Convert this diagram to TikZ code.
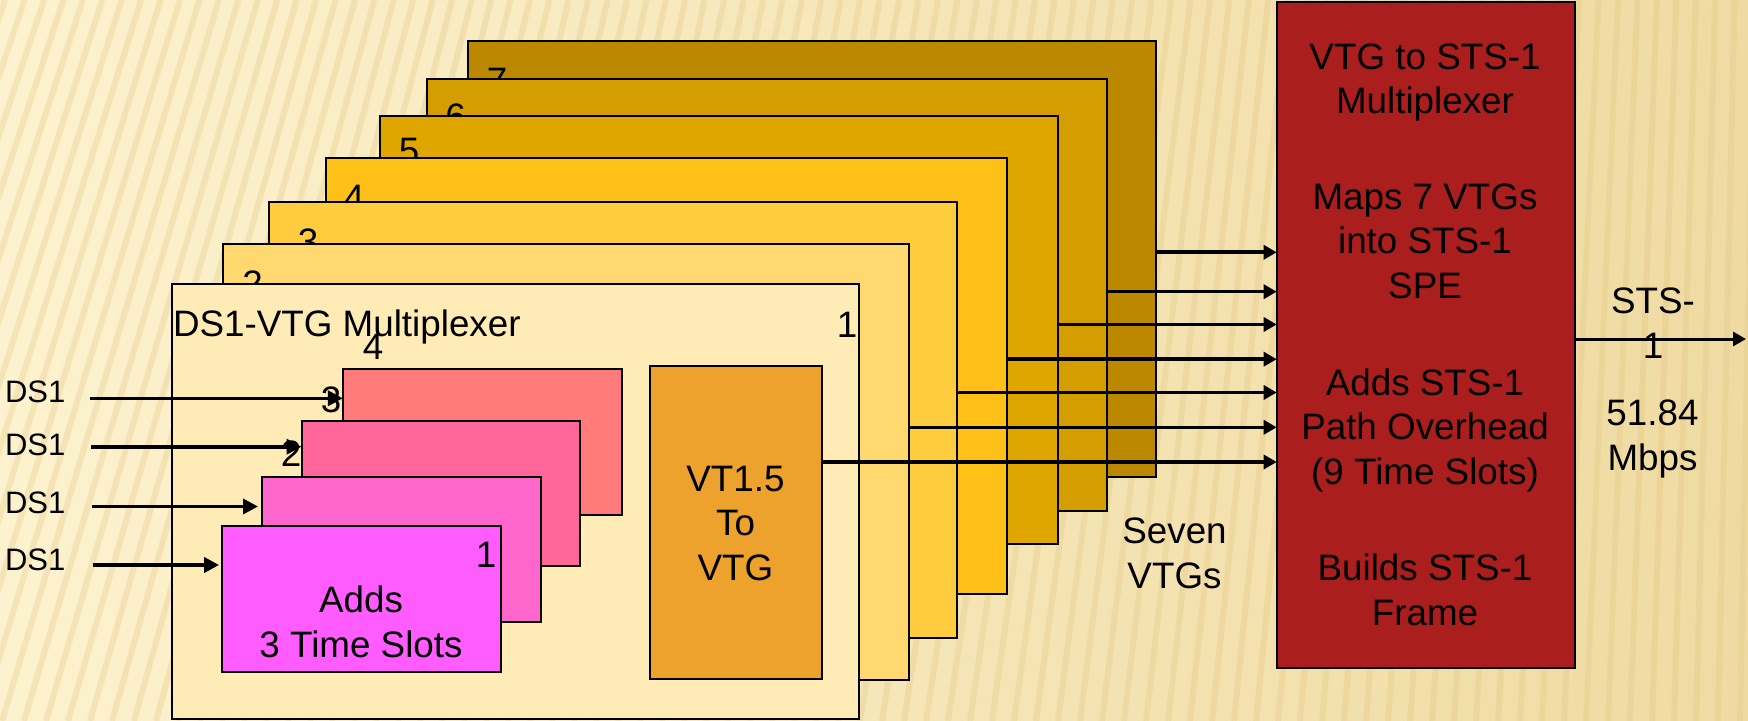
\documentclass[tikz,border=0pt]{standalone}
\usepackage{fontspec}
\setmainfont{Liberation Sans}
\usetikzlibrary{arrows.meta}
\definecolor{bgA}{HTML}{FDF2CF}
\definecolor{bgB}{HTML}{EFDBA2}
\definecolor{stripeC}{HTML}{E3C47E}
\definecolor{yA}{HTML}{FFEBB5}
\definecolor{yB}{HTML}{FFD96F}
\definecolor{yC}{HTML}{FFCC3F}
\definecolor{yD}{HTML}{FFC117}
\definecolor{yE}{HTML}{E0A600}
\definecolor{yF}{HTML}{D49D00}
\definecolor{yG}{HTML}{BB8800}
\definecolor{pkD}{HTML}{FF7A7A}
\definecolor{pkC}{HTML}{FF6699}
\definecolor{pkB}{HTML}{FF66CC}
\definecolor{pkA}{HTML}{FF5CFF}
\definecolor{vtC}{HTML}{EDA22E}
\definecolor{redC}{HTML}{AA1E1E}
\newcommand\mybox[6]{\node[box, fill=#6, minimum width={(#3-#1)*0.5pt}, minimum height={(#4-#2)*0.5pt}] (#5) at (#1,#2) {};}
\begin{document}
\begin{tikzpicture}[x=0.5pt,y=-0.5pt,
  box/.style={draw=black, line width=1pt, inner sep=0pt, outer sep=0pt, anchor=north west},
  txt/.style={inner sep=0pt, outer sep=0pt, font=\fontsize{18.4}{22.25}\selectfont, align=center, anchor=base},
  small/.style={inner sep=0pt, outer sep=0pt, font=\fontsize{15.5}{19}\selectfont, anchor=base west},
  stripe/.style={draw=stripeC, line width=3pt, opacity=0.3},
  inarr/.style={line width=1.8pt, -{Triangle[length=7.5pt,width=7.5pt]}},
  midarr/.style={line width=1.8pt, -{Triangle[length=6.5pt,width=7pt]}},
  outarr/.style={line width=1.5pt, -{Triangle[length=6.5pt,width=7pt]}}]
\useasboundingbox (0,0) rectangle (1748,721);
% background
\begin{scope}
\clip (0,0) rectangle (1748,721);
\shade[left color=bgA, right color=bgB] (0,0) rectangle (1748,721);
\foreach \b in {-240,-218,...,1780} {\draw[stripe] (\b,721) -- ({\b+721*0.34*(1-(\b+240)/2100)},0);}
\end{scope}
% seven VTG boxes, back to front
\mybox{467.7}{41}{1156.2}{476.7}{v7}{yG}
\node[txt] (l7) at (497,94) {7};
\mybox{426.5}{79}{1106.8}{510.7}{v6}{yF}
\node[txt] (l6) at (455.5,130) {6};
\mybox{380}{116.2}{1057.5}{544.3}{v5}{yE}
\node[txt] (l5) at (409,164) {5};
\mybox{325.7}{158.3}{1007.1}{594.3}{v4}{yD}
\node[txt] (l4) at (354,211) {4};
\mybox{268.7}{201.8}{957.1}{637.7}{v3}{yC}
\node[txt] (l3) at (308,255) {3};
\mybox{223.1}{244}{908.6}{680.3}{v2}{yB}
\node[txt] (l2) at (252.5,297) {2};
\mybox{171.7}{284.2}{859}{719}{v1}{yA}
% contents of box 1
\node[txt, anchor=base west] (title) at (173,336) {DS1-VTG Multiplexer};
\node[txt] (n1) at (847,337) {1};
\node[txt] (q4) at (373,359.5) {4};
\node[txt] (q3) at (331,412) {3};
\node[txt] (q2) at (291,466.5) {2};
\mybox{342.9}{369.3}{622}{515}{p4}{pkD}
\mybox{301.5}{421}{580.3}{566}{p3}{pkC}
\mybox{262}{476.7}{540.8}{621.7}{p2}{pkB}
\mybox{222.1}{526}{501.3}{671.7}{p1}{pkA}
\node[txt] (q1) at (486,567) {1};
\node[txt] (adds) at (361,657.3) {Adds\\3 Time Slots};
\mybox{649.6}{366}{821.8}{679}{vt}{vtC}
\node[txt] (vttext) at (735.5,580) {VT1.5\\To\\VTG};
% DS1 inputs
\node[small] (d1) at (5,402.3) {DS1};
\node[small] (d2) at (5,455.7) {DS1};
\node[small] (d3) at (5,513.3) {DS1};
\node[small] (d4) at (5,570) {DS1};
\coordinate (s1) at (90,398.3);
\coordinate (s2) at (91,446.7);
\coordinate (s3) at (92,506.5);
\coordinate (s4) at (93.3,565);
\draw[inarr] (s1) -- (s1 -| p4.west);
\draw[inarr] (s2) -- (s2 -| p3.west);
\draw[inarr, shorten >=2pt] (s3) -- (s3 -| p2.west);
\draw[inarr, shorten >=1.5pt] (s4) -- (s4 -| p1.west);
% STS-1 multiplexer
\mybox{1276.7}{1.7}{1574.5}{667.7}{red}{redC}
\node[txt] (r1) at (1425,114) {VTG to STS-1\\Multiplexer};
\node[txt] (r2) at (1425,298.5) {Maps 7 VTGs\\into STS-1\\SPE};
\node[txt] (r3) at (1425,484) {Adds STS-1\\Path Overhead\\(9 Time Slots)};
\node[txt] (r4) at (1425,625) {Builds STS-1\\Frame};
% VTG to multiplexer arrows
\coordinate (y7) at (0,252.3);
\coordinate (y6) at (0,291.7);
\coordinate (y5) at (0,324.5);
\coordinate (y4) at (0,359.2);
\coordinate (y3) at (0,392.5);
\coordinate (y2) at (0,427.3);
\coordinate (y1) at (0,462);
\draw[midarr] (v7.east |- y7) -- (red.west |- y7);
\draw[midarr] (v6.east |- y6) -- (red.west |- y6);
\draw[midarr] (v5.east |- y5) -- (red.west |- y5);
\draw[midarr] (v4.east |- y4) -- (red.west |- y4);
\draw[midarr] (v3.east |- y3) -- (red.west |- y3);
\draw[midarr] (v2.east |- y2) -- (red.west |- y2);
\draw[midarr] (vt.east |- y1) -- (red.west |- y1);
\node[txt] (seven) at (1174.5,588.3) {Seven\\VTGs};
% output
\node[txt] (sts) at (1653,358.3) {STS-\\1};
\coordinate (outend) at (1746,339);
\draw[outarr] (red.east |- outend) -- (outend);
\node[txt] (rate) at (1652.5,470) {51.84\\Mbps};
\end{tikzpicture}
\end{document}
